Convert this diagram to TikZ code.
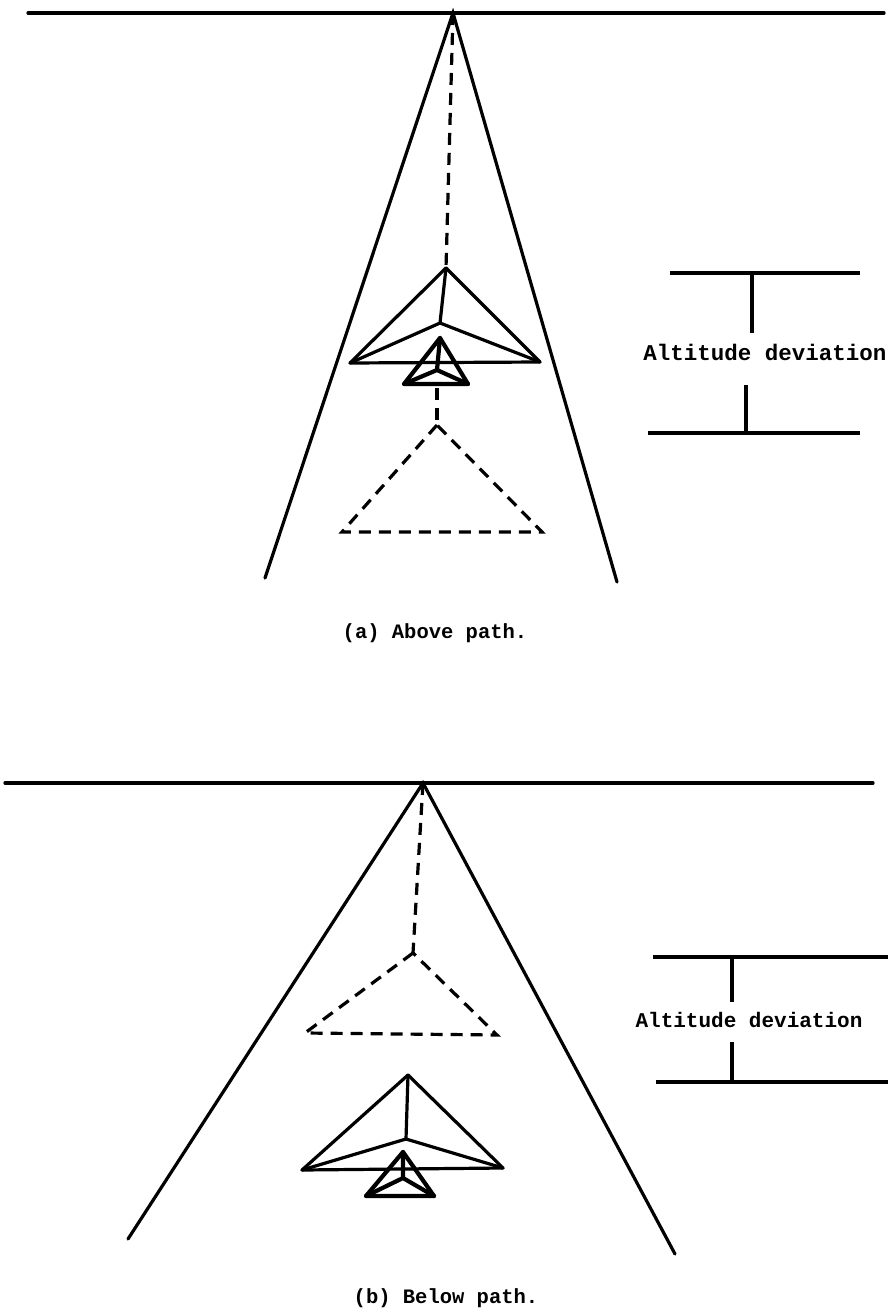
\documentclass[tikz,border=0pt]{standalone}
\usepackage{fontspec}
\setmonofont{Liberation Mono}
\usetikzlibrary{positioning, calc}

\begin{document}
\begin{tikzpicture}[
        x=1pt, y=-1pt,
        edge/.style={line width=3.2pt, line cap=round},
        wing/.style={line width=3.2pt, line join=round, line cap=round},
        tiny/.style={line width=4.2pt, line join=round, line cap=round},
        ghost/.style={line width=3.2pt, dash pattern=on 12pt off 8pt},
        tick/.style={line width=3.2pt},
        label/.style={font=\ttfamily\bfseries\fontsize{21}{24}\selectfont, inner sep=0pt}
    ]
        \useasboundingbox (0, 0) rectangle (888, 1313);

        % (a) glider above the path
        \coordinate (hA1) at (28, 13);
        \coordinate (hA2) at (884, 13);
        \coordinate (apexA) at (453, 13);
        \coordinate (rwA1) at (265, 578);
        \coordinate (rwA2) at (617, 582);
        \draw[edge] (hA1) -- (hA2);
        \draw[edge] (rwA1) -- (apexA) -- (rwA2);
        % big glider
        \coordinate (topA) at (446, 268);
        \coordinate (midA) at (440, 323);
        \coordinate (leftA) at (350, 363);
        \coordinate (rightA) at (540, 362);
        \draw[wing] (topA) -- (leftA) -- (rightA) -- cycle;
        \draw[wing] (topA) -- (midA) (leftA) -- (midA) -- (rightA);
        % small glider
        \coordinate (sTopA) at (440, 338);
        \coordinate (sMidA) at (437, 370);
        \coordinate (sLeftA) at (404, 384);
        \coordinate (sRightA) at (468, 384);
        \coordinate (tailA) at (437, 388);
        \draw[tiny] (sTopA) -- (sLeftA) -- (sRightA) -- cycle;
        \draw[tiny] (sTopA) -- (sMidA) (sLeftA) -- (sMidA) -- (sRightA);
        % glide path position
        \coordinate (gTopA) at (437, 425);
        \coordinate (gLeftA) at (342, 532);
        \coordinate (gRightA) at (542, 532);
        \draw[ghost] (apexA) -- (topA);
        \draw[ghost] (tailA) -- (gTopA);
        \draw[ghost] (gTopA) -- (gLeftA) -- (gRightA) -- cycle;
        % deviation bracket
        \coordinate (bA1) at (670, 273);
        \coordinate (bA2) at (860, 273);
        \coordinate (bA3) at (648, 433);
        \coordinate (bA4) at (860, 433);
        \node[label, font=\ttfamily\bfseries\fontsize{22.5}{24}\selectfont] (devA) at (765, 352) {Altitude deviation};
        \draw[tick] (bA1) -- (bA2);
        \draw[tick] (bA3) -- (bA4);
        \draw[tick] (752, 273) -- (752, 333);
        \draw[tick] (746, 385) -- (746, 433);
        \node[label, font=\ttfamily\bfseries\fontsize{20.5}{24}\selectfont] (capA) at (435, 633) {(a) Above path.};

        % (b) glider below the path
        \coordinate (hB1) at (5, 783);
        \coordinate (hB2) at (873, 783);
        \coordinate (apexB) at (423, 783);
        \coordinate (rwB1) at (128, 1239);
        \coordinate (rwB2) at (675, 1254);
        \draw[edge] (hB1) -- (hB2);
        \draw[edge] (rwB1) -- (apexB) -- (rwB2);
        % glide path position
        \coordinate (gTopB) at (413, 953);
        \coordinate (gLeftB) at (305, 1033);
        \coordinate (gRightB) at (497, 1035);
        \draw[ghost] (apexB) -- (gTopB);
        \draw[ghost] (gTopB) -- (gLeftB) -- (gRightB) -- cycle;
        % big glider
        \coordinate (topB) at (408, 1075);
        \coordinate (midB) at (406, 1139);
        \coordinate (leftB) at (302, 1170);
        \coordinate (rightB) at (503, 1168);
        \draw[wing] (topB) -- (leftB) -- (rightB) -- cycle;
        \draw[wing] (topB) -- (midB) (leftB) -- (midB) -- (rightB);
        % small glider
        \coordinate (sTopB) at (403, 1152);
        \coordinate (sMidB) at (403, 1178);
        \coordinate (sLeftB) at (366, 1196);
        \coordinate (sRightB) at (434, 1196);
        \draw[tiny] (sTopB) -- (sLeftB) -- (sRightB) -- cycle;
        \draw[tiny] (sTopB) -- (sMidB) (sLeftB) -- (sMidB) -- (sRightB);
        % deviation bracket
        \coordinate (bB1) at (653, 957);
        \coordinate (bB2) at (888, 957);
        \coordinate (bB3) at (656, 1082);
        \coordinate (bB4) at (888, 1082);
        \node[label] (devB) at (749, 1020) {Altitude deviation};
        \draw[tick] (bB1) -- (bB2);
        \draw[tick] (bB3) -- (bB4);
        \draw[tick] (732, 957) -- (732, 1002);
        \draw[tick] (732, 1042) -- (732, 1082);
        \node[label, font=\ttfamily\bfseries\fontsize{20.5}{24}\selectfont] (capB) at (446, 1298) {(b) Below path.};
    \end{tikzpicture}
\end{document}
